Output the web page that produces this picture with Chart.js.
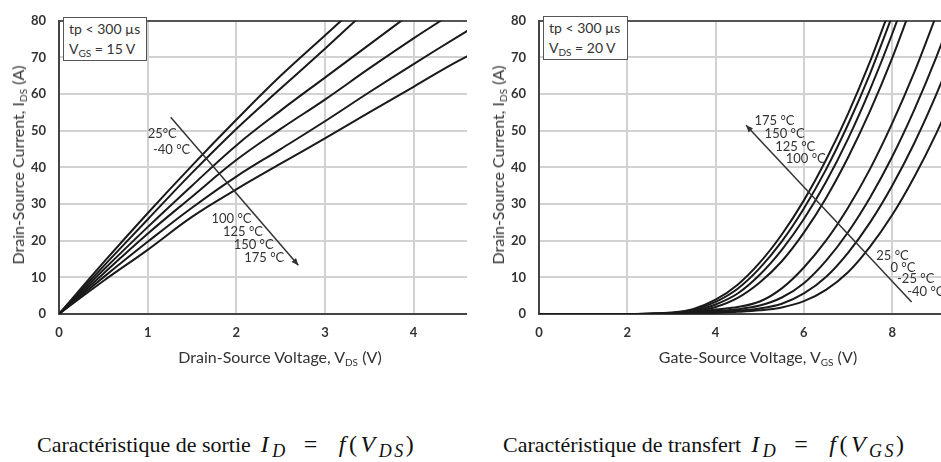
<!DOCTYPE html>
<html lang="fr">
<head>
<meta charset="UTF-8">
<title>Caractéristiques de sortie et de transfert</title>
<script src="https://cdn.jsdelivr.net/npm/chart.js"></script>
<style>
  body {
    margin: 0;
    width: 941px;
    height: 462px;
    overflow: hidden;
    position: relative;
    background: #fff;
    font-family: Lato, "Open Sans", sans-serif;
    color: #333;
  }
  .panel { position: absolute; top: 0; height: 380px; overflow: hidden; }
  #left { left: 0; width: 467px; }
  #right { left: 470px; width: 471px; }
  .ytitle, .xtitle {
    position: absolute;
    font-size: 16px;
    white-space: nowrap;
    line-height: 18px;
  }
  .ytitle { top: 165px; transform: translate(-50%, -50%) rotate(-90deg); }
  .xtitle { top: 357px; transform: translate(-50%, -50%); }
  .ytitle sub, .xtitle sub, .box sub { font-size: 10px; vertical-align: -3px; line-height: 0; }
  .box {
    position: absolute;
    border: 1.5px solid #555;
    font-size: 14px;
    line-height: 20px;
    padding: 1px 5px;
    background: #fff;
    white-space: nowrap;
  }
  .caption {
    position: absolute;
    top: 431px;
    font-family: "Liberation Serif", "DejaVu Serif", serif;
    font-size: 22px;
    color: #111;
    white-space: nowrap;
  }
  .caption .m { font-size: 24px; letter-spacing: 3.5px; margin-left: 10px; }
  .caption .eq { margin: 0 18px 0 16px; }
  .caption sub { font-size: 18px; vertical-align: -5px; line-height: 0; letter-spacing: 2.5px; }
</style>
</head>
<body>
<div class="panel" id="left"><canvas id="outChart" width="517" height="380"></canvas></div>
<div class="panel" id="right"><canvas id="transChart" width="529" height="380"></canvas></div>

<div class="ytitle" style="left:18px">Drain-Source Current, I<sub>DS</sub> (A)</div>
<div class="ytitle" style="left:498px">Drain-Source Current, I<sub>DS</sub> (A)</div>
<div class="xtitle" style="left:280px">Drain-Source Voltage, V<sub>DS</sub> (V)</div>
<div class="xtitle" style="left:758px">Gate-Source Voltage, V<sub>GS</sub> (V)</div>

<div class="box" style="left:63px; top:17px; width:72px;">tp &lt; 300 µs<br>V<sub>GS</sub> = 15 V</div>
<div class="box" style="left:543px; top:16px; width:73px;">tp &lt; 300 µs<br>V<sub>DS</sub> = 20 V</div>

<div class="caption" style="left:37px">Caractéristique de sortie<span class="m"><i>I</i><sub><i>D</i></sub><span class="eq">=</span><i>f</i>(<i>V</i><sub><i>DS</i></sub>)</span></div>
<div class="caption" style="left:503px">Caractéristique de transfert<span class="m"><i>I</i><sub><i>D</i></sub><span class="eq">=</span><i>f</i>(<i>V</i><sub><i>GS</i></sub>)</span></div>

<script>
// output characteristic, VGS = 15 V
const vds = [0, 0.5, 1, 1.5, 2, 2.5, 3, 3.5, 4, 4.5, 5];
const out25 = [0, 14, 27.5, 40.5, 53, 65, 76, 87];
const outM40 = [0, 13, 25.8, 38.5, 50.5, 61.5, 72.4, 83.5];
const out100 = [0, 12, 23.7, 35, 46, 55.5, 64.5, 73.5, 82.5];
const out125 = [0, 11, 21.9, 32, 42, 50.5, 58.5, 67, 75.2, 83];
const out150 = [0, 10, 19.7, 29, 37.5, 45, 52.6, 60.5, 68.2, 75.7, 83];
const out175 = [0, 9, 17.5, 26.5, 34, 41, 47.9, 55, 62, 69, 75];

// transfer characteristic, VDS = 20 V
const vgs = [0, 0.5, 1, 1.5, 2, 2.5, 3, 3.5, 4, 4.5, 5, 5.5, 6, 6.5, 7, 7.5, 8, 8.5, 9, 9.5, 10];
const tr175 = [0, 0, 0, 0, 0.02, 0.1, 0.4, 1.4, 3.9, 8.0, 14.0, 21.7, 31.0, 42.0, 54.6, 68.9, 84.9];
const tr150 = [0, 0, 0, 0, 0.02, 0.08, 0.3, 1.1, 3.3, 6.9, 12.5, 19.8, 28.8, 39.4, 51.7, 65.6, 81.3];
const tr125 = [0, 0, 0, 0, 0.01, 0.06, 0.25, 0.8, 2.6, 5.6, 10.7, 17.5, 25.9, 36.0, 47.8, 61.3, 76.4, 93.2];
const tr100 = [0, 0, 0, 0, 0.01, 0.04, 0.2, 0.6, 1.9, 4.4, 8.6, 14.4, 22.2, 31.6, 42.7, 55.4, 69.8, 86.0];
const tr25 = [0, 0, 0, 0, 0, 0.02, 0.05, 0.4, 1.2, 1.9, 3.4, 7.0, 12.7, 20.0, 29.0, 39.6, 52.0, 65.9, 81.5];
const tr0 = [0, 0, 0, 0, 0, 0.01, 0.03, 0.25, 0.8, 1.3, 2.3, 4.5, 8.4, 14.5, 22.3, 31.8, 42.9, 55.7, 70.1, 86.2];
const trM25 = [0, 0, 0, 0, 0, 0.01, 0.02, 0.15, 0.5, 0.9, 1.5, 2.8, 5.6, 10.1, 16.7, 25.0, 35.0, 46.6, 59.9, 74.8, 91.5];
const trM40 = [0, 0, 0, 0, 0, 0, 0.01, 0.1, 0.35, 0.6, 1.0, 1.8, 3.5, 6.6, 11.4, 18.4, 27.0, 37.4, 49.3, 62.9, 78];

const yTicks = [0, 10, 20, 30, 40, 50, 60, 70, 80];

// temperature labels and arrows, placed in data units
const outNotes = {
  labels: [['25°C', 1.0, 49.1], ['-40 °C', 1.06, 44.8], ['100 °C', 1.72, 25.9],
           ['125 °C', 1.85, 22.4], ['150 °C', 1.97, 18.9], ['175 °C', 2.09, 15.2]],
  arrow: [1.26, 53.7, 2.70, 13.3]
};
const trNotes = {
  labels: [['175 °C', 4.88, 52.6], ['150 °C', 5.11, 49.3], ['125 °C', 5.35, 45.7], ['100 °C', 5.59, 42.3],
           ['25 °C', 7.64, 15.9], ['0 °C', 7.96, 12.6], ['-25 °C', 8.11, 9.5], ['-40 °C', 8.34, 6.1]],
  arrow: [8.44, 3.3, 4.69, 51.5]
};

function notesPlugin(notes) {
  return {
    id: 'notes',
    afterDatasetsDraw(chart) {
      const { ctx, scales: { x, y } } = chart;
      ctx.save();
      ctx.fillStyle = '#333';
      ctx.font = '13px Lato, sans-serif';
      ctx.textBaseline = 'middle';
      notes.labels.forEach(([t, vx, vy]) => {
        ctx.fillText(t, x.getPixelForValue(vx), y.getPixelForValue(vy));
      });
      const [ax0, ay0, ax1, ay1] = notes.arrow;
      const x0 = x.getPixelForValue(ax0), y0 = y.getPixelForValue(ay0);
      const x1 = x.getPixelForValue(ax1), y1 = y.getPixelForValue(ay1);
      ctx.strokeStyle = '#333';
      ctx.lineWidth = 1.5;
      ctx.beginPath();
      ctx.moveTo(x0, y0);
      ctx.lineTo(x1, y1);
      ctx.stroke();
      const a = Math.atan2(y1 - y0, x1 - x0);
      ctx.beginPath();
      ctx.moveTo(x1, y1);
      ctx.lineTo(x1 - 7 * Math.cos(a) + 3 * Math.sin(a), y1 - 7 * Math.sin(a) - 3 * Math.cos(a));
      ctx.lineTo(x1 - 7 * Math.cos(a) - 3 * Math.sin(a), y1 - 7 * Math.sin(a) + 3 * Math.cos(a));
      ctx.closePath();
      ctx.fill();
      ctx.restore();
    }
  };
}

const tickFont = { family: 'Lato', size: 13, weight: 'bold' };

function makeChart(id, xs, series, xMax, xStep, yWidth, padRight, notes, interp) {
  const datasets = series.map(s => ({
    data: s.map((v, i) => ({ x: xs[i], y: v })),
    borderColor: '#1a1a1a',
    borderWidth: 2,
    pointRadius: 0,
    fill: false,
    tension: 0.4,
    cubicInterpolationMode: interp
  }));
  return new Chart(document.getElementById(id), {
    type: 'line',
    data: { datasets },
    options: {
      responsive: false,
      animation: false,
      layout: { padding: { top: 14, right: padRight, left: 0, bottom: 0 } },
      plugins: { legend: { display: false }, tooltip: { enabled: false } },
      scales: {
        x: {
          type: 'linear', min: 0, max: xMax,
          ticks: { stepSize: xStep, padding: 11, color: '#333', font: tickFont },
          grid: { color: '#d2d2d2', lineWidth: 2, drawTicks: false },
          border: { color: '#444', width: 2 },
          afterFit: s => { s.height = 66; }
        },
        y: {
          min: 0, max: 80,
          afterBuildTicks: s => { s.ticks = yTicks.map(v => ({ value: v })); },
          ticks: { padding: 13, color: '#333', font: tickFont },
          grid: {
            color: c => (c.tick && c.tick.value === 80 ? '#555' : '#d2d2d2'),
            lineWidth: 2, drawTicks: false
          },
          border: { color: '#444', width: 2 },
          afterFit: s => { s.width = yWidth; }
        }
      }
    },
    plugins: [notesPlugin(notes)]
  });
}

makeChart('outChart', vds, [out25, outM40, out100, out125, out150, out175], 5, 1, 59, 4, outNotes, 'default');
makeChart('transChart', vgs, [tr175, tr150, tr125, tr100, tr25, tr0, trM25, trM40], 10, 2, 69, 7, trNotes, 'monotone');
</script>
</body>
</html>
